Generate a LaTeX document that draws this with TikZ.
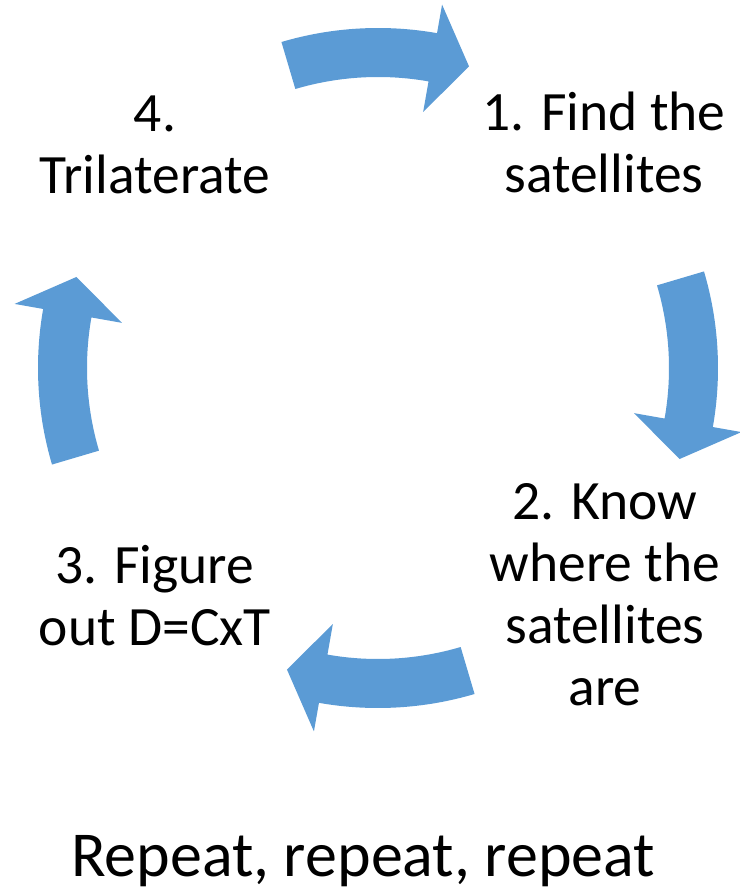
\documentclass[tikz,border=0pt]{standalone}
\usepackage{fontspec}
\setmainfont{Carlito}
\definecolor{cycleblue}{RGB}{91,155,213}

\begin{document}
\begin{tikzpicture}[x=1pt, y=1pt, every node/.style={align=center, inner sep=0pt, font=\fontsize{55.5}{62}\selectfont}, cyclearrow/.style={fill=cycleblue}]
\useasboundingbox (-378,-528) rectangle (361,368);
\node (find) at (226,226) {1. Find the\\satellites};
\node (know) at (227,-227) {2. Know\\where the\\satellites\\are};
\node (figure) at (-223,-228) {3. Figure\\out D=CxT};
\node (tri) at (-223,223) {4.\\Trilaterate};
% curved arrows round the cycle
\fill[cyclearrow] (106.5:340) arc[start angle=106.5, end angle=80, radius=340] -- (80:369) -- (73.2:315) -- (80:260) -- (80:291) arc[start angle=80, end angle=106.5, radius=291] -- cycle;
\fill[cyclearrow] (16.5:340) arc[start angle=16.5, end angle=-10, radius=340] -- (-10:369) -- (-16.8:315) -- (-10:260) -- (-10:291) arc[start angle=-10, end angle=16.5, radius=291] -- cycle;
\fill[cyclearrow] (-73.5:340) arc[start angle=-73.5, end angle=-100, radius=340] -- (-100:369) -- (-106.8:315) -- (-100:260) -- (-100:291) arc[start angle=-100, end angle=-73.5, radius=291] -- cycle;
\fill[cyclearrow] (196.5:340) arc[start angle=196.5, end angle=170, radius=340] -- (170:369) -- (163.2:315) -- (170:260) -- (170:291) arc[start angle=170, end angle=196.5, radius=291] -- cycle;
\node[font=\fontsize{64}{72}\selectfont] (repeat) at (-15,-493) {Repeat, repeat, repeat};
\end{tikzpicture}
\end{document}
